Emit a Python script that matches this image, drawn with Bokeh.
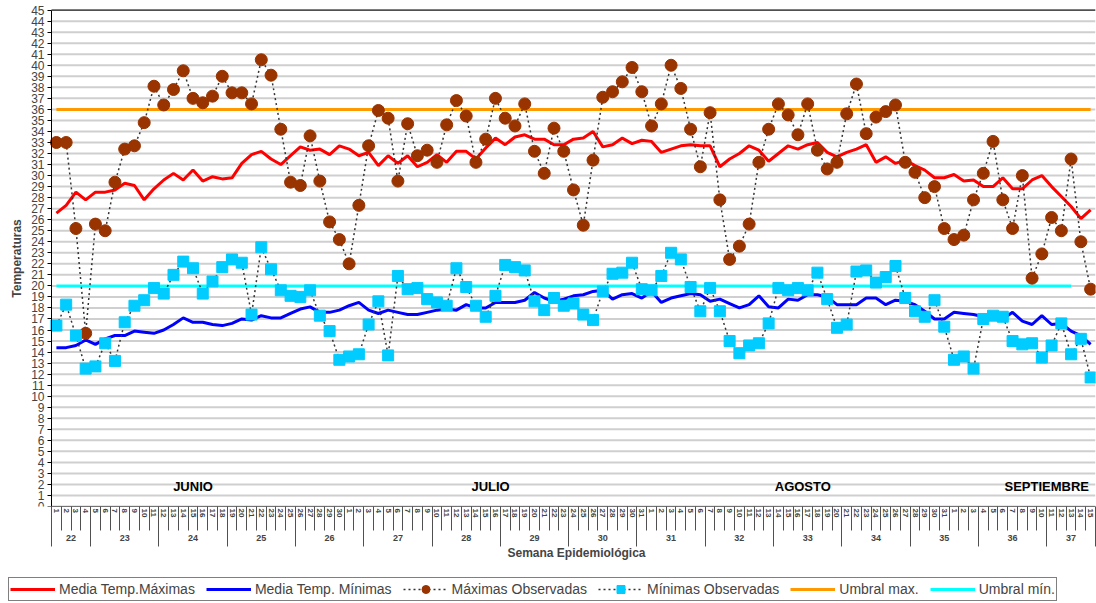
import math
from bokeh.plotting import figure
from bokeh.layouts import column
from bokeh.models import (FixedTicker, LinearAxis, Range1d, Legend, Title,
                          LegendItem, ColumnDataSource)
from bokeh.core.properties import value
from bokeh.embed import file_html
from bokeh.resources import INLINE

FONT = "Liberation Sans"

# ---------------- data ----------------
june_days = list(range(1, 31))
july_days = list(range(1, 32))
august_days = list(range(1, 32))
september_days = list(range(1, 16))
day_labels = [str(d) for d in june_days + july_days + august_days + september_days]
days = list(range(1, len(day_labels) + 1))

weeks = [22, 23, 24, 25, 26, 27, 28, 29, 30, 31, 32, 33, 34, 35, 36, 37]
week_first_day = [1, 5, 12, 19, 26, 33, 40, 47, 54, 61, 68, 75, 82, 89, 96, 103]

months = ["JUNIO", "JULIO", "AGOSTO", "SEPTIEMBRE"]

media_max = [26.6, 27.3, 28.5, 27.8, 28.5, 28.5, 28.7, 29.3, 29.1, 27.8,
             28.8, 29.6, 30.2, 29.6, 30.5, 29.5, 29.9, 29.7, 29.8, 31.1,
             31.9, 32.2, 31.5, 31.0, 31.8, 32.6, 32.3, 32.4, 31.9, 32.7,
             32.4, 31.8, 32.1, 30.9, 31.8, 31.1, 31.8, 30.8, 31.2, 31.9,
             31.2, 32.2, 32.2, 31.5, 32.5, 33.4, 32.8, 33.5, 33.7, 33.3,
             33.3, 32.8, 32.8, 33.3, 33.4, 34.0, 32.6, 32.8, 33.4, 32.9,
             33.2, 33.1, 32.1, 32.4, 32.7, 32.8, 32.7, 32.7, 30.8, 31.5,
             32.0, 32.7, 32.3, 31.3, 32.0, 32.7, 32.4, 32.8, 33.0, 32.1,
             31.7, 32.1, 32.4, 32.8, 31.2, 31.7, 31.1, 31.4, 30.9, 30.5,
             29.8, 29.8, 30.1, 29.5, 29.6, 29.0, 29.0, 29.8, 28.8, 28.8,
             29.6, 30.0, 29.0, 28.1, 27.2, 26.1, 26.9]

media_min = [14.4, 14.4, 14.6, 15.1, 14.7, 15.2, 15.5, 15.5, 15.9, 15.8,
             15.7, 16.0, 16.5, 17.1, 16.7, 16.7, 16.5, 16.4, 16.6, 17.0,
             16.9, 17.3, 17.1, 17.1, 17.5, 17.9, 18.1, 17.6, 17.6, 17.8,
             18.2, 18.5, 17.8, 17.5, 17.8, 17.6, 17.4, 17.4, 17.6, 17.8,
             17.9, 17.8, 18.3, 18.0, 18.0, 18.5, 18.5, 18.5, 18.7, 19.4,
             18.9, 18.6, 18.8, 19.1, 19.2, 19.5, 19.6, 18.8, 19.2, 19.3,
             18.9, 19.5, 18.5, 18.9, 19.1, 19.3, 19.2, 18.6, 18.8, 18.4,
             18.0, 18.3, 19.1, 18.1, 18.0, 18.8, 18.7, 19.2, 19.2, 19.0,
             18.3, 18.3, 18.3, 18.9, 18.9, 18.3, 18.7, 18.6, 18.3, 17.7,
             17.0, 17.0, 17.6, 17.5, 17.4, 17.2, 17.2, 17.0, 17.6, 16.8,
             16.5, 17.3, 16.5, 16.6, 15.9, 15.5, 14.7]

max_obs = [33.0, 33.0, 25.2, 15.7, 25.6, 25.0, 29.4, 32.4, 32.7, 34.8,
           38.1, 36.4, 37.8, 39.5, 37.0, 36.6, 37.2, 39.0, 37.5, 37.5,
           36.5, 40.5, 39.1, 34.2, 29.4, 29.1, 33.6, 29.5, 25.8, 24.2,
           22.0, 27.3, 32.7, 35.9, 35.2, 29.5, 34.7, 31.8, 32.3, 31.2,
           34.6, 36.8, 35.4, 31.2, 33.3, 37.0, 35.2, 34.5, 36.5, 32.2,
           30.2, 34.3, 32.2, 28.7, 25.5, 31.4, 37.1, 37.6, 38.5, 39.8,
           37.6, 34.5, 36.5, 40.0, 37.9, 34.2, 30.8, 35.7, 27.8, 22.4,
           23.6, 25.6, 31.2, 34.2, 36.5, 35.5, 33.7, 36.5, 32.3, 30.6,
           31.2, 35.6, 38.3, 33.8, 35.3, 35.8, 36.4, 31.2, 30.3, 28.0,
           29.0, 25.2, 24.2, 24.6, 27.8, 30.2, 33.1, 27.8, 25.2, 30.0,
           20.7, 22.9, 26.2, 25.0, 31.5, 24.0, 19.7]

min_obs = [16.4, 18.3, 15.5, 12.5, 12.7, 14.8, 13.2, 16.7, 18.2, 18.7,
           19.8, 19.3, 21.0, 22.2, 21.6, 19.3, 20.4, 21.7, 22.4, 22.1,
           17.4, 23.5, 21.5, 19.6, 19.1, 19.0, 19.6, 17.3, 15.9, 13.3,
           13.6, 13.8, 16.5, 18.6, 13.7, 20.9, 19.7, 19.8, 18.8, 18.5,
           18.2, 21.6, 19.9, 18.2, 17.2, 19.1, 21.9, 21.7, 21.4, 18.6,
           17.8, 18.9, 18.2, 18.4, 17.4, 16.9, 19.5, 21.1, 21.2, 22.1,
           19.7, 19.6, 20.9, 23.0, 22.4, 19.9, 17.7, 19.8, 17.7, 15.0,
           13.9, 14.6, 14.8, 16.6, 19.8, 19.6, 19.8, 19.6, 21.2, 18.8,
           16.2, 16.5, 21.3, 21.4, 20.3, 20.8, 21.8, 18.9, 17.7, 17.2,
           18.7, 16.3, 13.3, 13.6, 12.5, 17.0, 17.3, 17.2, 15.0, 14.7,
           14.8, 13.5, 14.6, 16.6, 13.8, 15.2, 11.7]

UMBRAL_MAX = 36
UMBRAL_MIN = 20
umbral_max_days = days
umbral_min_days = days[:105]

y_ticks = list(range(0, 46))

# ---------------- layout helpers ----------------
n_days = len(days)
week_last_day = [d - 1 for d in week_first_day[1:]] + [n_days]
week_centers = [(a + b) / 2 for a, b in zip(week_first_day, week_last_day)]
month_pos = [15, 45.5, 77.5, 102.5]
x_lo, x_hi = 0.5, n_days + 0.5
x_view_start = -3.91   # leaves room for the y-axis labels inside the frame
y_lo, y_hi = 0, 45
y_view_end = 45.6      # a little headroom so the top tick label is not clipped

C_MMAX, C_MMIN = "#FF0000", "#0000FF"
C_OMAX, C_OMIN = "#993300", "#00CCFF"
C_UMAX, C_UMIN = "#FF9900", "#00FFFF"
C_DOT = "#333333"

p = figure(width=1096, height=573,
           x_range=Range1d(x_view_start, x_hi), y_range=Range1d(y_lo, y_view_end),
           output_backend="svg", toolbar_location=None,
           x_axis_location=None,
           min_border_left=8, min_border_right=1, min_border_top=3,
           min_border_bottom=67)
p.outline_line_color = None
p.background_fill_color = "white"
p.border_fill_color = "white"
p.xgrid.visible = False
p.ygrid.visible = False

# y axis (drawn at the left edge of the day range)
p.yaxis.fixed_location = x_lo
p.yaxis.bounds = (y_lo, y_hi)
p.yaxis.ticker = FixedTicker(ticks=y_ticks)
p.yaxis.axis_label = "Temperaturas"
p.yaxis.axis_label_text_font = FONT
p.yaxis.axis_label_text_font_style = "bold"
p.yaxis.axis_label_text_font_size = "12px"
p.yaxis.axis_label_standoff = 4
p.yaxis.major_label_text_font = FONT
p.yaxis.major_label_text_font_size = "12px"
p.yaxis.major_label_standoff = 3
p.yaxis.major_tick_out = 4
p.yaxis.major_tick_in = 0
p.yaxis.minor_tick_out = 0
p.yaxis.minor_tick_in = 0
p.yaxis.axis_line_color = "black"
p.yaxis.major_tick_line_color = "black"

# horizontal grid over the day range only
p.segment(x0=[x_lo] * len(y_ticks), y0=y_ticks, x1=[x_hi] * len(y_ticks), y1=y_ticks,
          line_color="#cfcfcf", line_width=2)
p.segment(x0=[x_lo, x_lo], y0=[y_lo, y_hi], x1=[x_hi, x_hi], y1=[y_lo, y_hi],
          line_color="black", line_width=1)

# day axis
day_axis = LinearAxis(
    ticker=FixedTicker(ticks=days, minor_ticks=[d - 0.5 for d in days] + [x_hi]),
    major_label_overrides={d: lab for d, lab in zip(days, day_labels)},
    major_label_orientation=-math.pi / 2,
    major_label_text_font=FONT, major_label_text_font_size="8px",
    major_label_text_font_style="bold",
    major_label_standoff=-22,
    major_tick_out=0, major_tick_in=0,
    minor_tick_out=24, minor_tick_in=0,
    minor_tick_line_color="#505050",
    axis_line_color=None)
p.add_layout(day_axis, "below")

# week axis
week_axis = LinearAxis(
    ticker=FixedTicker(ticks=week_centers,
                       minor_ticks=[d - 0.5 for d in week_first_day] + [x_hi]),
    major_label_overrides={c: str(w) for c, w in zip(week_centers, weeks)},
    major_label_text_font=FONT, major_label_text_font_size="9px",
    major_label_text_font_style="bold",
    major_label_standoff=-12,
    major_tick_out=0, major_tick_in=0,
    minor_tick_out=26, minor_tick_in=0,
    minor_tick_line_color="#505050",
    axis_line_color=None)
p.add_layout(week_axis, "below")

p.add_layout(Title(text="Semana Epidemiológica", align="left", offset=499,
                   text_font=FONT, text_font_size="12px", text_font_style="bold",
                   standoff=0), "below")

# thresholds
p.line(umbral_max_days, [UMBRAL_MAX] * len(umbral_max_days), line_color=C_UMAX, line_width=3)
p.line(umbral_min_days, [UMBRAL_MIN] * len(umbral_min_days), line_color=C_UMIN, line_width=3)

# means
p.line(days, media_max, line_color=C_MMAX, line_width=3)
p.line(days, media_min, line_color=C_MMIN, line_width=3)

# observed
p.line(days, max_obs, line_color=C_DOT, line_dash="2 3", line_width=1.5)
p.line(days, min_obs, line_color=C_DOT, line_dash="2 3", line_width=1.5)
p.scatter(days, max_obs, marker="circle", size=12, fill_color=C_OMAX, line_color=C_OMAX)
p.scatter(days, min_obs, marker="square", size=11, fill_color=C_OMIN, line_color=C_OMIN)

# month labels
msrc = ColumnDataSource(dict(x=month_pos, y=[1.8] * len(months), t=months))
p.text(x="x", y="y", text="t", source=msrc, text_font=value(FONT),
       text_font_style="bold", text_font_size="13px",
       text_align="center", text_baseline="middle", text_color="black")

# ---------------- legend strip ----------------
pl = figure(width=1096, height=30, x_range=Range1d(0, 1), y_range=Range1d(0, 1),
            output_backend="svg", toolbar_location=None,
            min_border=0, x_axis_location=None, y_axis_location=None)
pl.outline_line_color = None
pl.xgrid.visible = False
pl.ygrid.visible = False
# legend-only renderers: their single segment lies outside the visible range
hidden = ColumnDataSource(dict(x=[-5, -4], y=[-5, -4]))
l_mmax = pl.line("x", "y", source=hidden, line_color=C_MMAX, line_width=3)
l_mmin = pl.line("x", "y", source=hidden, line_color=C_MMIN, line_width=3)
l_omax_l = pl.line("x", "y", source=hidden, line_color=C_DOT, line_dash="2 3", line_width=1.5)
l_omax_s = pl.scatter("x", "y", source=hidden, marker="circle", size=12,
                      fill_color=C_OMAX, line_color=C_OMAX)
l_omin_l = pl.line("x", "y", source=hidden, line_color=C_DOT, line_dash="2 3", line_width=1.5)
l_omin_s = pl.scatter("x", "y", source=hidden, marker="square", size=11,
                      fill_color=C_OMIN, line_color=C_OMIN)
l_umax = pl.line("x", "y", source=hidden, line_color=C_UMAX, line_width=3)
l_umin = pl.line("x", "y", source=hidden, line_color=C_UMIN, line_width=3)

legend = Legend(items=[
    LegendItem(label="Media Temp.Máximas", renderers=[l_mmax]),
    LegendItem(label="Media Temp. Mínimas", renderers=[l_mmin]),
    LegendItem(label="Máximas Observadas", renderers=[l_omax_l, l_omax_s]),
    LegendItem(label="Mínimas Observadas", renderers=[l_omin_l, l_omin_s]),
    LegendItem(label="Umbral max.", renderers=[l_umax]),
    LegendItem(label="Umbral mín.", renderers=[l_umin]),
], orientation="horizontal", location=(0, 2),
    border_line_color="black", border_line_width=1,
    background_fill_color="white", background_fill_alpha=1.0,
    label_text_font=FONT, label_text_font_size="14px",
    glyph_width=45, glyph_height=20, spacing=11, padding=1, margin=0,
    label_standoff=4, label_height=20)
pl.add_layout(legend)

open("out.html", "w").write(file_html(column(p, pl, spacing=0), INLINE))
